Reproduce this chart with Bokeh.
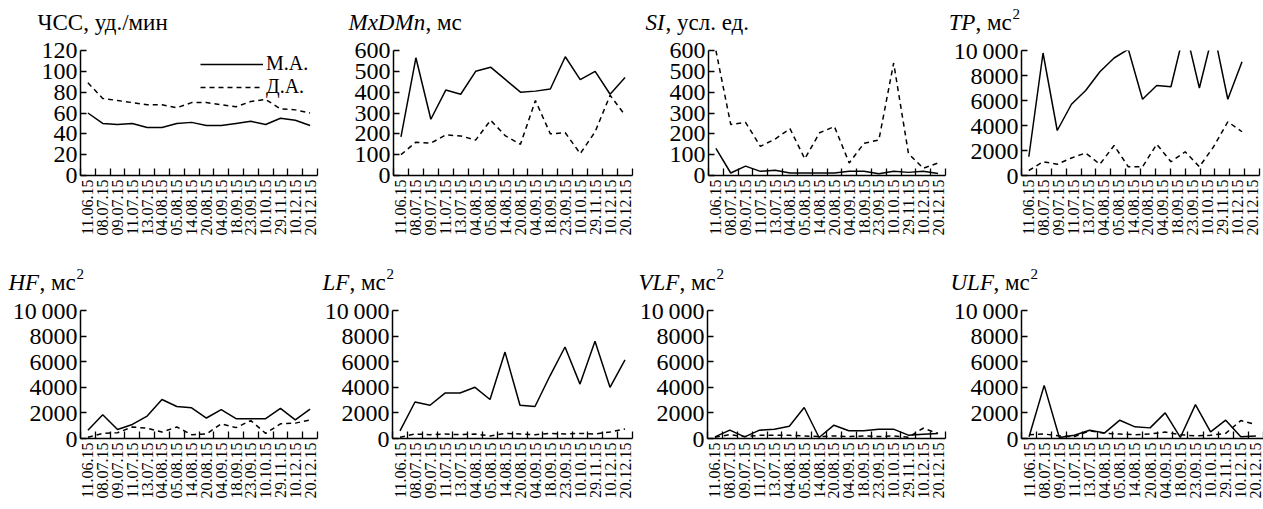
import math
from bokeh.plotting import figure
from bokeh.layouts import column, row
from bokeh.models import Range1d, FixedTicker, Label, Legend, LegendItem
from bokeh.embed import file_html
from bokeh.resources import INLINE

dates = ["11.06.15", "08.07.15", "09.07.15", "11.07.15", "13.07.15", "04.08.15",
         "05.08.15", "14.08.15", "20.08.15", "04.09.15", "18.09.15", "23.09.15",
         "10.10.15", "29.11.15", "10.12.15", "20.12.15"]

series_names = ["М.А.", "Д.А."]

hr_ma = [60, 50, 49, 50, 46, 46, 50, 51, 48, 48, 50, 52, 49, 55, 53, 48]
hr_da = [89, 74, 72, 70, 68, 68, 65, 70, 70, 68, 66, 71, 73, 64, 63, 60]
mxdmn_ma = [185, 565, 270, 410, 390, 500, 520, 460, 400, 405, 415, 570, 460, 500, 390, 470]
mxdmn_da = [100, 160, 155, 195, 190, 170, 265, 190, 150, 360, 200, 205, 105, 210, 385, 290]
si_ma = [130, 12, 45, 20, 25, 12, 12, 12, 12, 20, 20, 8, 20, 15, 20, 10]
si_da = [600, 245, 255, 140, 175, 225, 80, 205, 235, 60, 155, 170, 540, 105, 35, 60]
tp_ma = [1500, 9800, 3600, 5700, 6800, 8300, 9400, 10100, 6100, 7200, 7100, 11800, 7000, 11600, 6100, 9100]
tp_da = [400, 1100, 900, 1400, 1800, 900, 2400, 700, 700, 2500, 1100, 1900, 700, 2300, 4300, 3500]
hf_ma = [650, 1850, 700, 1100, 1750, 3050, 2500, 2400, 1600, 2250, 1550, 1550, 1550, 2350, 1450, 2300]
hf_da = [100, 400, 450, 900, 800, 500, 900, 300, 350, 1150, 850, 1400, 400, 1150, 1200, 1450]
lf_ma = [600, 2850, 2600, 3550, 3550, 4000, 3050, 6750, 2600, 2500, 4900, 7150, 4250, 7600, 4000, 6150]
lf_da = [100, 350, 300, 350, 300, 350, 200, 400, 350, 300, 400, 350, 400, 350, 500, 750]
vlf_ma = [130, 650, 130, 650, 730, 960, 2420, 80, 1040, 600, 600, 730, 730, 260, 340, 390]
vlf_da = [100, 300, 150, 250, 250, 250, 200, 150, 200, 150, 200, 150, 200, 100, 800, 400]
ulf_ma = [130, 4150, 80, 260, 650, 440, 1430, 910, 830, 2000, 80, 2650, 520, 1430, 130, 200]
ulf_da = [300, 350, 200, 150, 600, 400, 350, 300, 350, 500, 300, 200, 250, 400, 1400, 1100]

FONT = "Liberation Serif"
N = len(dates)
centers = [i + 0.5 for i in range(N)]


def style_plain(p):
    p.outline_line_color = None
    p.grid.visible = False
    p.background_fill_color = "white"
    p.border_fill_color = "white"


def make_title(width, height, x0, base, it, rest, sup, it_w, rest_w):
    t = figure(width=width, height=height, x_range=Range1d(0, width), y_range=Range1d(0, height),
               x_axis_type=None, y_axis_type=None, min_border=0,
               output_backend="svg", toolbar_location=None, tools="")
    style_plain(t)
    if it:
        t.add_layout(Label(x=x0, y=base, text=it, text_font=FONT, text_font_size="23px",
                           text_font_style="italic", text_baseline="alphabetic", text_color="black"))
    t.add_layout(Label(x=x0 + it_w, y=base, text=rest, text_font=FONT, text_font_size="23px",
                       text_baseline="alphabetic", text_color="black"))
    if sup:
        t.add_layout(Label(x=x0 + it_w + rest_w, y=base + 9, text=sup, text_font=FONT,
                           text_font_size="15px", text_baseline="alphabetic", text_color="black"))
    return t


def make_panel(ma, da, ymax, ystep, bl, fw, br, fh, bt, bb, tp_scale=False, legend=False):
    p = figure(frame_width=fw, frame_height=fh, min_border_left=bl,
               min_border_right=br, min_border_top=bt, min_border_bottom=bb,
               x_range=Range1d(0, N), y_range=Range1d(0, ymax),
               output_backend="svg", toolbar_location=None, tools="")
    style_plain(p)

    kw = {}
    xs = centers
    if tp_scale:
        p.extra_x_ranges = {"tp": Range1d(-0.515, 16.23)}
        kw = {"x_range_name": "tp"}
        xs = list(range(N))
    r1 = p.line(xs, ma, line_color="black", line_width=1.5, **kw)
    r2 = p.line(xs, da, line_color="black", line_width=1.5, line_dash="5 4", **kw)

    xa = p.xaxis[0]
    xa.ticker = FixedTicker(ticks=centers, minor_ticks=list(range(N + 1)))
    xa.major_label_overrides = {c: d for c, d in zip(centers, dates)}
    xa.major_tick_in = 0
    xa.major_tick_out = 0
    xa.minor_tick_in = 7
    xa.minor_tick_out = 0
    xa.minor_tick_line_color = "black"
    xa.minor_tick_line_width = 1.3
    xa.axis_line_width = 1.5
    xa.axis_line_color = "black"
    xa.major_label_orientation = math.pi / 2
    xa.major_label_standoff = 4
    xa.major_label_text_font = FONT
    xa.major_label_text_font_size = "16px"
    xa.major_label_text_color = "black"

    ya = p.yaxis[0]
    yt = list(range(0, ymax + 1, ystep))
    ya.ticker = FixedTicker(ticks=yt)
    ya.major_label_overrides = {v: ("10\u2009000" if v == 10000 else str(v)) for v in yt}
    ya.major_tick_in = 6
    ya.major_tick_out = 0
    ya.major_tick_line_width = 1.3
    ya.axis_line_width = 1.5
    ya.axis_line_color = "black"
    ya.major_label_standoff = 3
    ya.major_label_text_font = FONT
    ya.major_label_text_font_size = "24px"
    ya.major_label_text_color = "black"

    if legend:
        for r, name, ly in ((r1, series_names[0], 100), (r2, series_names[1], 77)):
            lg = Legend(items=[LegendItem(label=name, renderers=[r])], location=(120, ly))
            lg.glyph_width = 63
            lg.glyph_height = 20
            lg.label_height = 20
            lg.label_standoff = 3
            lg.padding = 0
            lg.spacing = 0
            lg.margin = 0
            lg.border_line_color = None
            lg.background_fill_alpha = 0
            lg.label_text_font = FONT
            lg.label_text_font_size = "20px"
            lg.label_text_color = "black"
            p.add_layout(lg)
    return p


# row 1 (title strip 36 px, panels: frame 50..175)
W1 = [320, 316, 314, 313]
t1 = make_title(W1[0], 36, 80 - 43, 14, "", "ЧСС, уд./мин", "", 0, 0)
t2 = make_title(W1[1], 36, 73 - 45, 14, "MxDMn", ", мс", "", 77, 0)
t3 = make_title(W1[2], 36, 72 - 63, 14, "SI", ", усл. ед.", "", 20, 0)
t4 = make_title(W1[3], 36, 70 - 72, 14, "TP", ", мс", "2", 27, 37)

p1 = make_panel(hr_ma, hr_da, 120, 20, 80, 237, 3, 125, 14, 75, legend=True)
p2 = make_panel(mxdmn_ma, mxdmn_da, 600, 100, 73, 239, 4, 125, 14, 75)
p3 = make_panel(si_ma, si_da, 600, 100, 72, 237, 5, 125, 14, 75)
p4 = make_panel(tp_ma, tp_da, 10000, 2000, 70, 238, 5, 125, 14, 75, tp_scale=True)

# row 2 (title strip 46 px, panels: frame 310..438)
W2 = [320, 316, 314, 313]
t5 = make_title(W2[0], 46, 80 - 72, 14, "HF", ", мс", "2", 31, 37)
t6 = make_title(W2[1], 46, 72 - 70, 14, "LF", ", мс", "2", 27, 37)
t7 = make_title(W2[2], 46, 71 - 69, 14, "VLF", ", мс", "2", 41, 37)
t8 = make_title(W2[3], 46, 68 - 68, 14, "ULF", ", мс", "2", 43, 37)

p5 = make_panel(hf_ma, hf_da, 10000, 2000, 80, 237, 3, 128, 14, 71)
p6 = make_panel(lf_ma, lf_da, 10000, 2000, 72, 240, 4, 128, 14, 71)
p7 = make_panel(vlf_ma, vlf_da, 10000, 2000, 71, 238, 5, 128, 14, 71)
p8 = make_panel(ulf_ma, ulf_da, 10000, 2000, 68, 242, 3, 128, 14, 71)

layout = column(row(t1, t2, t3, t4), row(p1, p2, p3, p4),
                row(t5, t6, t7, t8), row(p5, p6, p7, p8))
open("out.html", "w").write(file_html(layout, INLINE))
